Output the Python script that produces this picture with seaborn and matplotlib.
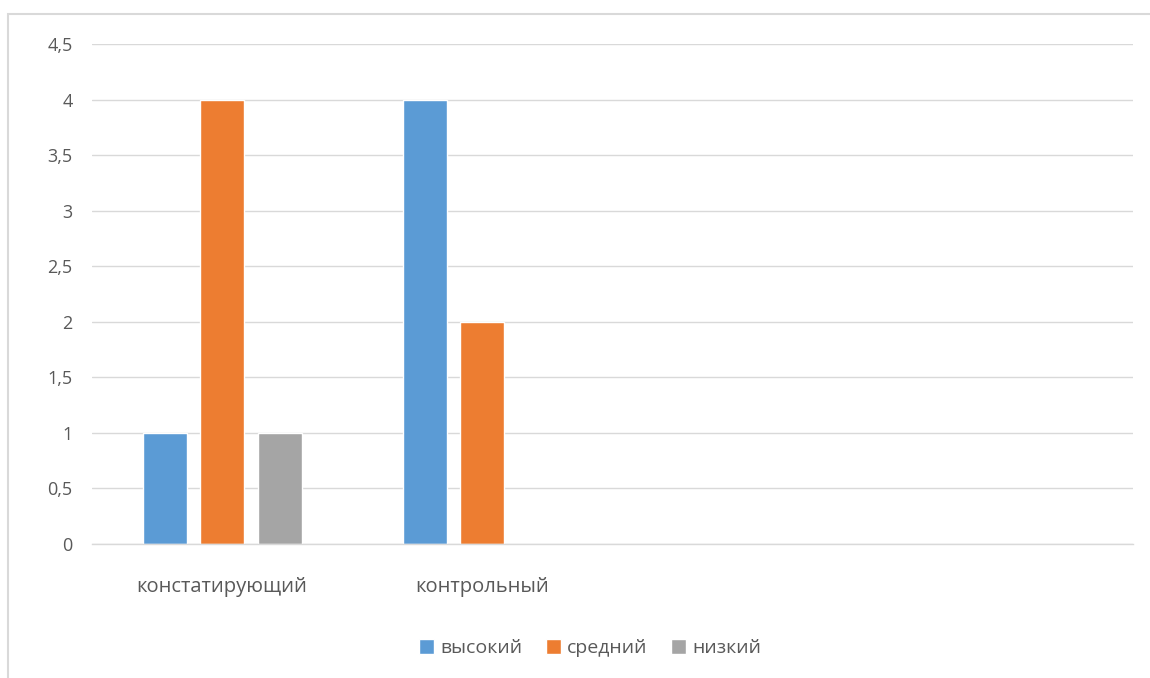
import matplotlib
matplotlib.use("Agg")
import matplotlib.pyplot as plt
from matplotlib.patches import Rectangle
from matplotlib.ticker import FuncFormatter, MultipleLocator
import seaborn as sns
import pandas as pd

# data
stages = ['констатирующий', 'контрольный']
levels = ['высокий', 'средний', 'низкий']
vysokiy = [1, 4]
sredniy = [4, 2]
nizkiy = [1, 0]
# the chart keeps two empty category slots on the right
slots = stages + ['', ' ']

colors = ['#5B9BD5', '#ED7D31', '#A5A5A5']
text_grey = '#595959'
line_grey = '#D9D9D9'

rows = []
for lvl, vals in zip(levels, [vysokiy, sredniy, nizkiy]):
    for st, v in zip(stages, vals):
        rows.append({'stage': st, 'level': lvl, 'value': v})
df = pd.DataFrame(rows)

sns.set_theme(style="white")
plt.rcParams['font.family'] = ['Open Sans', 'DejaVu Sans']

fig = plt.figure(figsize=(11.5, 6.78), dpi=100)
ax = fig.add_axes([92 / 1150, 1 - 544 / 678, (1133 - 92) / 1150, 500 / 678])

sns.barplot(data=df, x='stage', y='value', hue='level', order=slots,
            hue_order=levels, palette=colors, width=0.663, gap=0.235,
            saturation=1, errorbar=None, ax=ax, legend=False)

ax.set_ylim(0, 4.5)
ax.set_xlim(-0.5, len(slots) - 0.5)
ax.yaxis.set_major_locator(MultipleLocator(0.5))
ax.yaxis.set_major_formatter(FuncFormatter(lambda v, p: f"{v:g}".replace('.', ',')))
ax.grid(axis='y', color=line_grey, linewidth=1)
ax.set_axisbelow(True)
for side in ['top', 'right', 'left']:
    ax.spines[side].set_visible(False)
ax.spines['bottom'].set_color(line_grey)
ax.spines['bottom'].set_linewidth(1)
ax.set_xlabel('')
ax.set_ylabel('')
ax.tick_params(axis='x', length=0, pad=24, labelsize=14.5, labelcolor=text_grey)
ax.tick_params(axis='y', length=0, pad=14, labelsize=13, labelcolor=text_grey)

# chart outline (right and bottom edges fall outside the picture)
fig.patches.append(Rectangle((8 / 1150, -0.05), 1.2, 1 - 14 / 678 + 0.05,
                             transform=fig.transFigure, fill=False,
                             edgecolor=line_grey, linewidth=1.5))

handles = [Rectangle((0, 0), 1, 1, facecolor=c) for c in colors]
fig.legend(handles, levels, loc='center', bbox_to_anchor=(0.513, 1 - 648 / 678),
           ncol=3, frameon=False, handlelength=0.8, handleheight=0.8,
           handletextpad=0.3, columnspacing=1.2, fontsize=14,
           labelcolor=text_grey)

fig.savefig('out.png', dpi=100)
